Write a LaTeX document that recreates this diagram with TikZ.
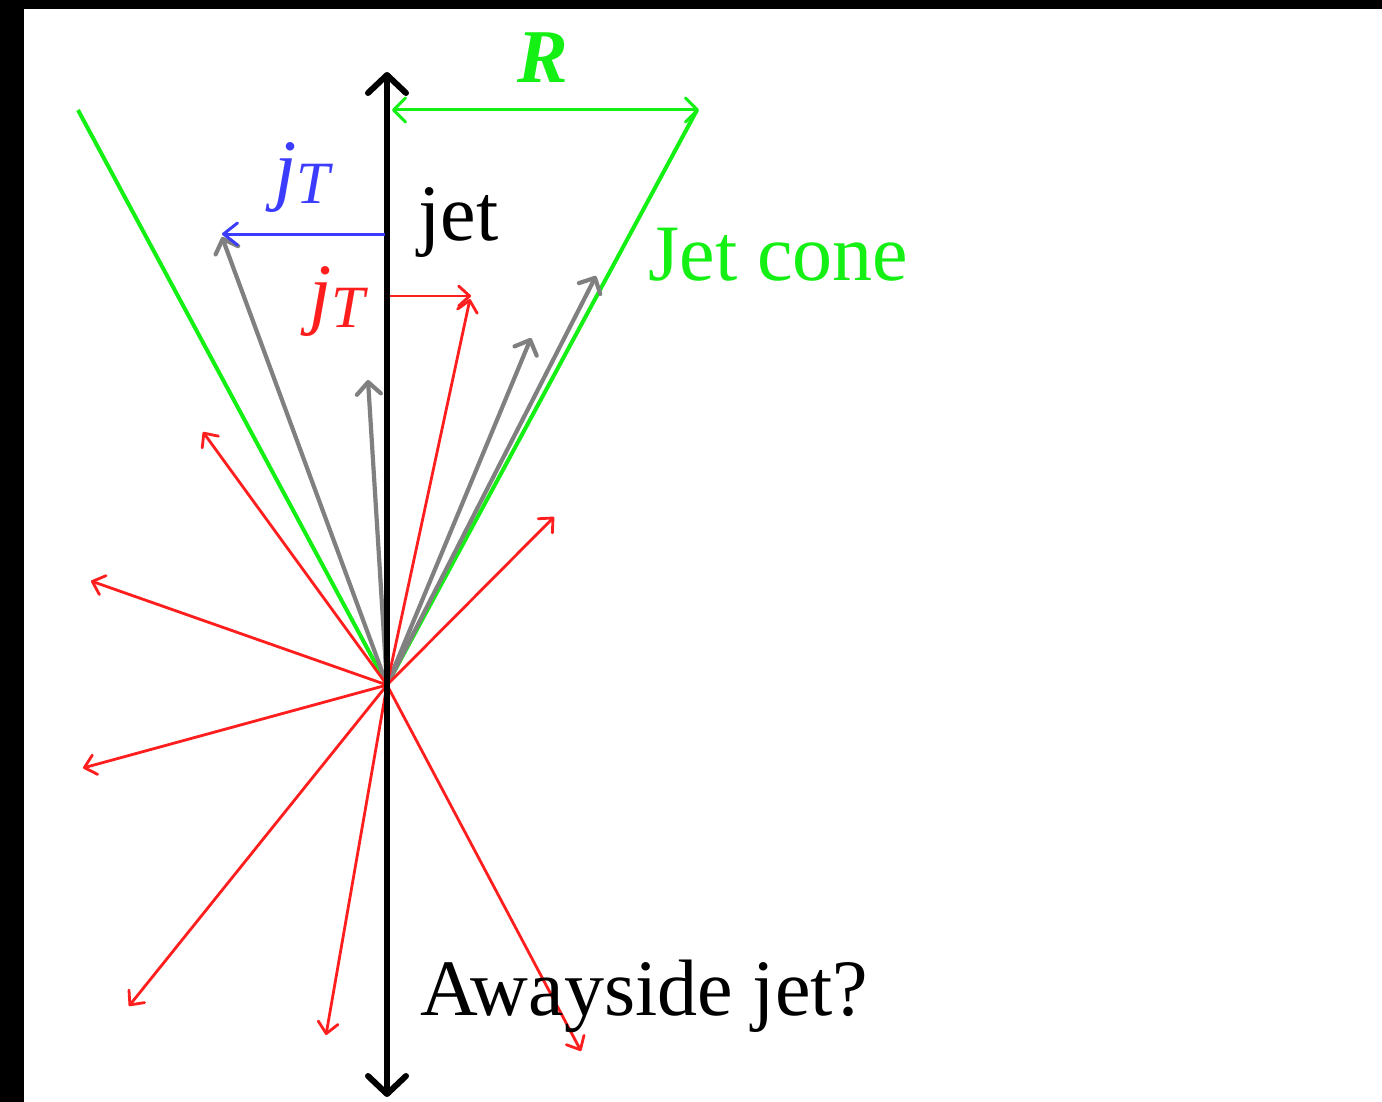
\documentclass[tikz,border=0pt]{standalone}
\usepackage{fontspec}
\setmainfont{Liberation Serif}
\usetikzlibrary{arrows.meta}
\definecolor{cgreen}{RGB}{20,240,20}
\definecolor{cred}{RGB}{255,30,30}
\definecolor{cblue}{RGB}{60,60,255}
\definecolor{cgray}{RGB}{128,128,128}
\tikzset{
  axisline/.style={line width=3pt, black, -{Straight Barb[length=9pt,width=19pt,round]}},
  coneline/.style={line width=2pt, cgreen},
  rline/.style={line width=1.5pt, cgreen, {Straight Barb[length=6pt,width=12pt,round]}-{Straight Barb[length=6pt,width=12pt,round]}},
  blueline/.style={line width=1.5pt, cblue, -{Straight Barb[length=7pt,width=11pt,round]}},
  grayline/.style={line width=2.1pt, cgray, -{Straight Barb[length=6pt,width=12pt,round]}},
  redline/.style={line width=1.4pt, cred, -{Straight Barb[length=5.5pt,width=10pt,round]}},
  lbl/.style={inner sep=0pt, anchor=base west, font=\fontsize{40}{40}\selectfont},
}
\newcommand{\jtsym}{\textit{j}\raisebox{-4pt}{\fontsize{30}{30}\selectfont\textit{T}}}
\begin{document}
\begin{tikzpicture}[x=0.5pt,y=-0.5pt]
\useasboundingbox (0,0) rectangle (1382,1102);
\fill[white] (0,0) rectangle (1382,1102);
\fill[black] (0,0) rectangle (1382,9);
\fill[black] (0,0) rectangle (24,1102);
% key points
\coordinate (O) at (387,685);
\coordinate (axtop) at (387,72);
\coordinate (axbot) at (387,1097);
\coordinate (cl) at (78,110);
\coordinate (cr) at (697,110);
\coordinate (rl) at (392,110);
\coordinate (rr) at (699,110);
\coordinate (bs) at (385,234);
\coordinate (be) at (222,234);
\coordinate (rs) at (390,296);
\coordinate (re) at (471,296);
% gray tips
\coordinate (g1) at (222,237);
\coordinate (g2) at (368,380);
\coordinate (g3) at (531,338);
\coordinate (g4) at (596,276);
% red tips
\coordinate (r1) at (470,299);
\coordinate (r2) at (203,432);
\coordinate (r3) at (91,581);
\coordinate (r4) at (83,768);
\coordinate (r5) at (554,517);
\coordinate (r6) at (129,1006);
\coordinate (r7) at (326,1035);
\coordinate (r8) at (581,1051);
% cone
\draw[coneline] (cl) -- (O) -- (cr);
% gray arrows
\foreach \t in {g1,g2,g3,g4} \draw[grayline] (O) -- (\t);
% red arrows
\foreach \t in {r1,r2,r3,r4,r5,r6,r7,r8} \draw[redline] (O) -- (\t);
% axis
\draw[axisline] (O) -- (axtop);
\draw[axisline] (O) -- (axbot);
% R arrow
\draw[rline] (rl) -- (rr);
% jT arrows
\draw[blueline] (bs) -- (be);
\draw[redline] (rs) -- (re);
% labels
\node[lbl, text=cgreen, font=\fontsize{38}{38}\selectfont\bfseries\itshape] (Rlab) at (517,83) {R};
\node[lbl, text=cblue] (jtb) at (274,196) {\jtsym};
\node[lbl, text=cred] (jtr) at (309,319) {\jtsym};
\node[lbl] (jetlab) at (418,240) {jet};
\node[lbl, text=cgreen] (conelab) at (648,280) {Jet cone};
\node[lbl] (away) at (420,1015) {Awayside jet?};
\end{tikzpicture}
\end{document}
